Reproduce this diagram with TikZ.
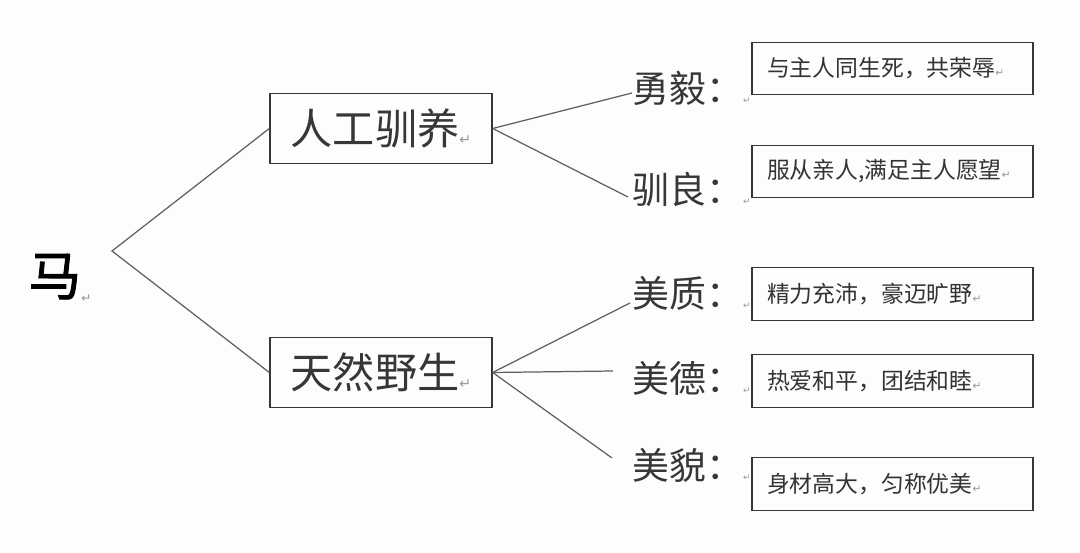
\documentclass[tikz,border=0pt]{standalone}
\usepackage{fontspec}
\setmainfont{Noto Sans CJK SC}
\newfontfamily\heavyfont[FakeBold=1.6]{Noto Sans CJK SC}
\newfontfamily\symfont{DejaVu Sans}
\usetikzlibrary{positioning,calc}
\definecolor{inkgray}{RGB}{55,55,55}
\definecolor{linegray}{RGB}{95,95,95}
\definecolor{markgray}{RGB}{150,150,150}
\definecolor{paper}{RGB}{253,253,253}
\newcommand{\retmark}[1]{{\symfont\fontsize{#1}{#1}\selectfont\color{markgray}↵}}

\begin{document}
\begin{tikzpicture}[
                  x=0.02cm,y=-0.02cm,
                  cat/.style={draw=inkgray,line width=0.8pt,minimum width=4.44cm,minimum height=1.4cm,inner sep=0pt,text=inkgray,font=\fontsize{24pt}{26pt}\selectfont},
                  desc/.style={draw=inkgray,line width=0.8pt,minimum width=5.62cm,minimum height=1.05cm,inner xsep=0.3cm,inner ysep=0pt,text width=5.02cm,align=left,text=black!80,font=\fontsize{13pt}{15pt}\selectfont},
                  lbl/.style={anchor=west,inner sep=0pt,text=inkgray,font=\fontsize{21pt}{23pt}\selectfont},
                  link/.style={draw=linegray,line width=0.7pt}
                ]
                \fill[paper] (0,0) rectangle (1080,553);
                \useasboundingbox (0,0) rectangle (1080,553);

                % root and first level
                \node[inner sep=0pt,font=\fontsize{30pt}{32pt}\heavyfont] (ma) at (60,278) {马\raisebox{-4pt}{\retmark{7pt}}};
                \coordinate (joint) at (112,251);
                \node[cat] (tame) at (381,128.5) {人工驯养\retmark{8pt}};
                \node[cat] (wild) at (381,372.5) {天然野生\retmark{8pt}};

                % second level labels
                \node[lbl] (l1) at (632,88) {勇毅：\raisebox{-1pt}{\retmark{5pt}}};
                \node[lbl] (l2) at (632,189) {驯良：\raisebox{-1pt}{\retmark{5pt}}};
                \node[lbl] (l3) at (632,293) {美质：\raisebox{-1pt}{\retmark{5pt}}};
                \node[lbl] (l4) at (632,378) {美德：\raisebox{-1pt}{\retmark{5pt}}};
                \node[lbl] (l5) at (632,465) {美貌：\raisebox{-1pt}{\retmark{5pt}}};

                % description boxes
                \node[desc] (d1) at (892.5,68.5) {与主人同生死，共荣辱\retmark{6pt}};
                \node[desc] (d2) at (892.5,171.5) {服从亲人,满足主人愿望\retmark{6pt}};
                \node[desc] (d3) at (892.5,294) {精力充沛，豪迈旷野\retmark{6pt}};
                \node[desc] (d4) at (892.5,381) {热爱和平，团结和睦\retmark{6pt}};
                \node[desc] (d5) at (892.5,484) {身材高大，匀称优美\retmark{6pt}};

                % line ends near the labels
                \coordinate (e1) at ($(l1.west)+(0,5)$);
                \coordinate (e2) at ($(l2.west)+(-4,8)$);
                \coordinate (e3) at ($(l3.west)+(-2,10)$);
                \coordinate (e4) at ($(l4.west)+(-19,-7)$);
                \coordinate (e5) at ($(l5.west)+(-20,-7)$);

                \draw[link] (tame.west) -- (joint) -- (wild.west);
                \draw[link] (tame.east) -- (e1);
                \draw[link] (tame.east) -- (e2);
                \draw[link] (wild.east) -- (e3);
                \draw[link] (wild.east) -- (e4);
                \draw[link] (wild.east) -- (e5);
                \end{tikzpicture}
\end{document}
